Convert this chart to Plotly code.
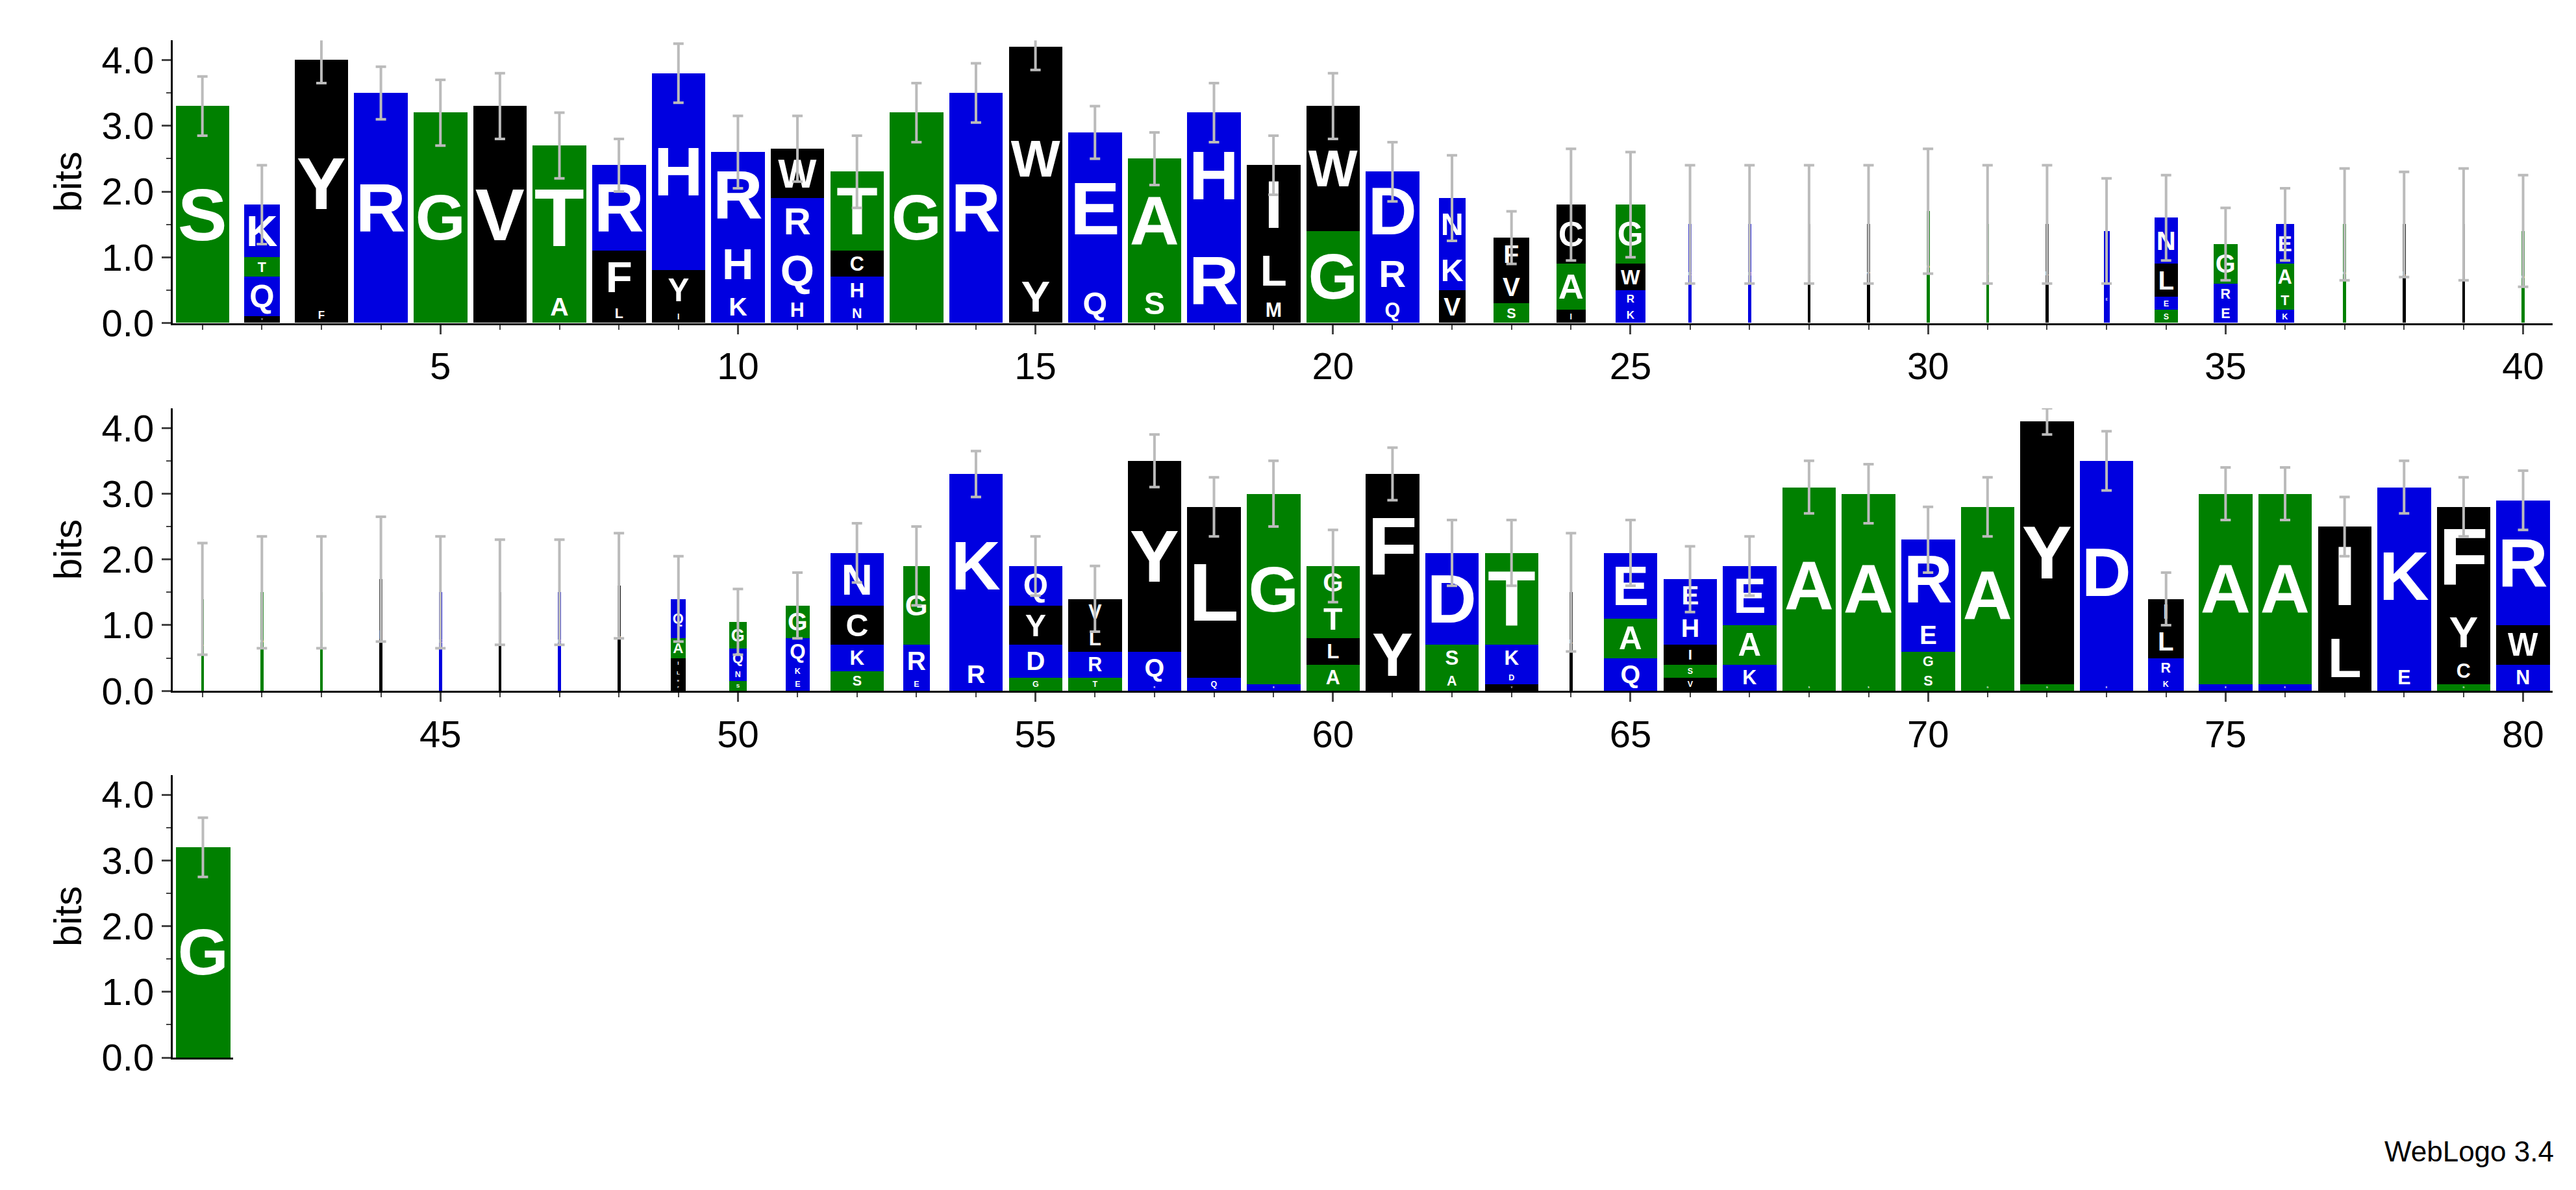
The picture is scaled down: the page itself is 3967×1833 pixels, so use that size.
import plotly.graph_objects as go

positions = list(range(1, 82))
letters = [
 ["S"],["V","Q","T","K"],["F","Y"],["R"],["G"],["V"],["A","T"],["L","F","R"],["I","Y","H"],["K","H","R"],
 ["H","Q","R","W"],["N","H","C","T"],["G"],["R"],["Y","W"],["Q","E"],["S","A"],["R","H"],["M","L","I"],["G","W"],
 ["Q","R","D"],["V","K","N"],["S","V","F"],["I","A","C"],["K","R","W","G"],["K"],["R"],["L"],["V"],["G"],
 ["S"],["L"],["E","K"],["S","E","L","N"],["E","R","G"],["K","T","A","E"],["G"],["L"],["I"],["G"],
 ["A"],["G"],["S"],["I"],["K"],["L"],["R"],["V"],["P","M","L","I","A","Q"],["S","N","Q","G"],
 ["E","K","Q","G"],["S","K","C","N"],["E","R","G"],["R","K"],["G","D","Y","Q"],["T","R","L","V"],["R","Q","Y"],["Q","L"],["E","G"],["A","L","T","G"],
 ["Y","F"],["A","S","D"],["V","D","K","T"],["L"],["Q","A","E"],["V","S","I","H","E"],["K","A","E"],["S","A"],["S","A"],["S","G","E","R"],
 ["G","A"],["G","Y"],["E","D"],["K","R","L","I"],["E","A"],["K","A"],["L","I"],["E","K"],["G","C","Y","F"],["N","W","R"],
 ["G"],
]
heights = [
 [3.3],[0.1,0.6,0.3,0.8],[0.25,3.75],[3.5],[3.2],[3.3],[0.5,2.2],[0.3,0.8,1.3],[0.2,0.6,3.0],[0.5,0.8,1.3],
 [0.4,0.8,0.7,0.75],[0.3,0.4,0.4,1.2],[3.2],[3.5],[0.8,3.4],[0.6,2.3],[0.6,1.9],[1.3,1.9],[0.4,0.8,1.2],[1.4,1.9],
 [0.4,0.7,1.2],[0.5,0.6,0.8],[0.3,0.5,0.5],[0.2,0.7,0.9],[0.25,0.25,0.4,0.9],[1.5],[1.5],[1.5],[1.5],[1.7],
 [1.5],[1.5],[0.7,0.7],[0.2,0.2,0.5,0.7],[0.3,0.3,0.6],[0.2,0.3,0.4,0.6],[1.5],[1.5],[1.5],[1.4],
 [1.4],[1.5],[1.5],[1.7],[1.5],[1.5],[1.5],[1.6],[0.1,0.1,0.15,0.15,0.3,0.6],[0.15,0.2,0.3,0.4],
 [0.2,0.2,0.4,0.5],[0.3,0.4,0.6,0.8],[0.2,0.5,1.2],[0.5,2.8],[0.2,0.5,0.6,0.6],[0.2,0.4,0.4,0.4],[0.1,0.5,2.9],[0.2,2.6],[0.1,2.9],[0.4,0.4,0.6,0.5],
 [1.1,2.2],[0.3,0.4,1.4],[0.1,0.2,0.4,1.4],[1.5],[0.5,0.6,1.0],[0.2,0.2,0.3,0.5,0.5],[0.4,0.6,0.9],[0.1,3.0],[0.1,2.9],[0.3,0.3,0.5,1.2],
 [0.1,2.7],[0.1,4.0],[0.1,3.4],[0.2,0.3,0.5,0.4],[0.1,2.9],[0.1,2.9],[1.0,1.5],[0.4,2.7],[0.1,0.4,0.8,1.5],[0.4,0.6,1.9],
 [3.2],
]
errors = [0.45,0.6,0.35,0.4,0.5,0.5,0.5,0.4,0.45,0.55,0.5,0.55,0.45,0.45,0.35,0.4,0.4,0.45,0.45,0.5,
 0.45,0.65,0.4,0.85,0.8,0.9,0.9,0.9,0.9,0.95,0.9,0.9,0.8,0.65,0.55,0.55,0.85,0.8,0.85,0.85,
 0.85,0.85,0.85,0.95,0.85,0.8,0.8,0.8,0.65,0.5,0.5,0.45,0.6,0.35,0.45,0.5,0.4,0.45,0.5,0.55,
 0.4,0.5,0.5,0.9,0.5,0.5,0.45,0.4,0.45,0.5,0.45,0.2,0.45,0.4,0.4,0.4,0.45,0.4,0.45,0.45,0.45]
widths = [0.9,0.6,0.9,0.9,0.9,0.9,0.9,0.9,0.9,0.9,0.9,0.9,0.9,0.9,0.9,0.9,0.9,0.9,0.9,0.9,
 0.9,0.45,0.6,0.5,0.5,0.05,0.05,0.05,0.05,0.05,0.05,0.05,0.1,0.4,0.4,0.3,0.05,0.05,0.05,0.05,
 0.05,0.05,0.05,0.05,0.05,0.05,0.05,0.05,0.25,0.3,0.4,0.9,0.45,0.9,0.9,0.9,0.9,0.9,0.9,0.9,
 0.9,0.9,0.9,0.05,0.9,0.9,0.9,0.9,0.9,0.9,0.9,0.9,0.9,0.6,0.9,0.9,0.9,0.9,0.9,0.9,0.9]

BLUE, GREEN, BLACK = "#0000e0", "#008000", "#000000"
cmap = {}
for c in "KRDEQNH": cmap[c] = BLUE
for c in "GSTA": cmap[c] = GREEN
for c in "YVFWILMCP": cmap[c] = BLACK

fig = go.Figure()
rows = [(1, 40, "x", "y"), (41, 80, "x2", "y2"), (81, 81, "x3", "y3")]
maxk = max(len(l) for l in letters)
for lo, hi, xa, ya in rows:
    idx = [i for i, p in enumerate(positions) if lo <= p <= hi]
    for k in range(maxk):
        xs, ys, ts, cs, ws = [], [], [], [], []
        for i in idx:
            if k < len(letters[i]):
                xs.append(positions[i]); ys.append(heights[i][k]); ts.append(letters[i][k])
                cs.append(cmap[letters[i][k]]); ws.append(widths[i])
        if xs:
            fig.add_trace(go.Bar(x=xs, y=ys, text=ts, width=ws, marker=dict(color=cs, line=dict(width=0)),
                                 textposition="inside", insidetextanchor="middle", constraintext="inside",
                                 textfont=dict(family="Liberation Sans", size=240, color="white", weight="bold"),
                                 textangle=0, xaxis=xa, yaxis=ya, showlegend=False, hoverinfo="x+y+text"))
    tops = [sum(heights[i]) for i in idx]
    fig.add_trace(go.Scatter(x=[positions[i] for i in idx], y=tops, mode="markers",
                             marker=dict(size=1, color="rgba(0,0,0,0)"),
                             error_y=dict(type="data", array=[errors[i] for i in idx], color="#bbbbbb",
                                          thickness=4, width=8),
                             xaxis=xa, yaxis=ya, showlegend=False))

axfont = dict(family="Liberation Sans", size=58, color="black")
common_x = dict(showline=True, linecolor="black", linewidth=3, ticks="outside", ticklen=14, tickwidth=3,
                tickfont=axfont, showgrid=False, zeroline=False,
                minor=dict(ticks="outside", ticklen=7, tickwidth=2, dtick=1))
common_y = dict(range=[0, 4.3], showline=True, linecolor="black", linewidth=3, ticks="outside", ticklen=14,
                tickwidth=3, tickvals=[0, 1, 2, 3, 4], ticktext=["0.0", "1.0", "2.0", "3.0", "4.0"],
                tickfont=axfont, showgrid=False, zeroline=False,
                title=dict(text="bits", font=dict(family="Liberation Sans", size=60, color="black"), standoff=12),
                minor=dict(ticks="outside", ticklen=7, tickwidth=2, dtick=0.5))
L, R = 0.065, 0.989
fig.update_layout(
    width=3967, height=1833, margin=dict(l=0, r=0, t=0, b=0), barmode="relative",
    plot_bgcolor="white", paper_bgcolor="white", bargap=0,
    font=dict(family="Liberation Sans", color="black"),
    xaxis=dict(common_x, domain=[L, R], range=[0.5, 40.5], anchor="y", tickvals=[5,10,15,20,25,30,35,40]),
    yaxis=dict(common_y, domain=[0.729, 0.971], anchor="x"),
    xaxis2=dict(common_x, domain=[L, R], range=[40.5, 80.5], anchor="y2", tickvals=[45,50,55,60,65,70,75,80]),
    yaxis2=dict(common_y, domain=[0.414, 0.656], anchor="x2"),
    xaxis3=dict(common_x, domain=[L, L + 0.0235], range=[80.5, 81.5], anchor="y3", showticklabels=False,
                ticks="", minor=dict(ticks="")),
    yaxis3=dict(common_y, domain=[0.100, 0.342], anchor="x3"),
    annotations=[dict(text="WebLogo 3.4", x=0.99, y=0.005, xref="paper", yref="paper", xanchor="right",
                      yanchor="bottom", showarrow=False,
                      font=dict(family="Liberation Sans", size=44, color="black"))],
)
fig.write_html("out.html")
